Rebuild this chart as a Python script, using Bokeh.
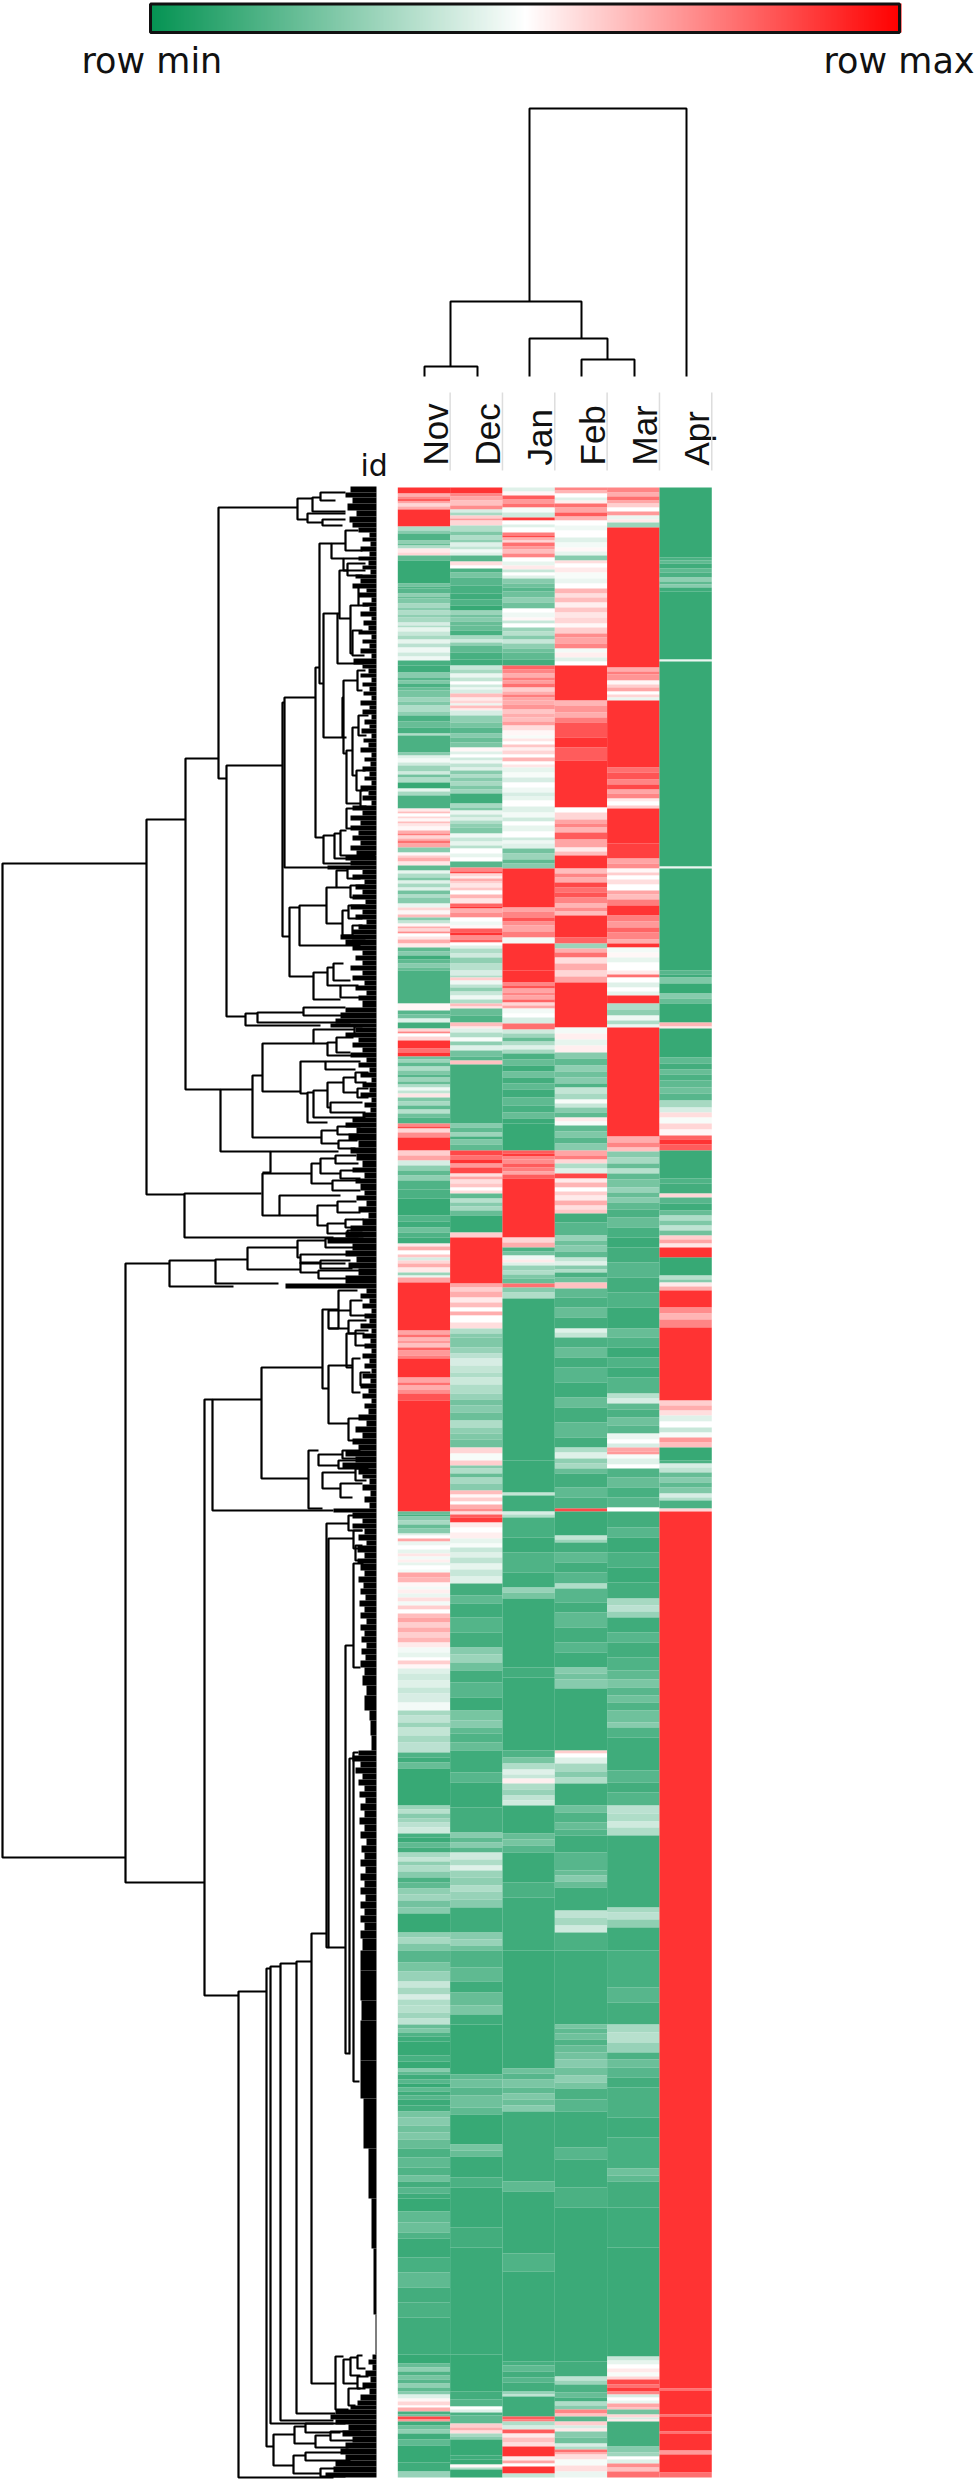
from bokeh.plotting import figure
from bokeh.embed import file_html
from bokeh.resources import INLINE
from bokeh.core.properties import value
import math

MONTHS = ["Nov", "Dec", "Jan", "Feb", "Mar", "Apr"]
ROWS = 1990
# heat bands per month: (last row of the band, row-scaled level 0=min .. 1=max)
NOV = [(6,1),(9,.7),(11,.8),(14,.9),(16,.72),(19,.6),(22,.7),(39,1),(43,.3),(46,.2),(53,.06),(56,.22),(58,.12),(61,.3),(65,.55),(68,.6),(73,.1),(96,0),(99,.15),(101,.06),(106,.08),(109,.22),(111,.12),(116,.18),(120,.28),(123,.2),(127,.3),(130,.22),(135,.28),(138,.4),(140,.3),(144,.44),(148,.36),(152,.28),(156,.44),(160,.33),(165,.46),(169,.38),(173,.46),(178,.04),(185,.02),(190,.2),(193,.08),(196,.18),(200,.05),(203,.12),(210,.16),(214,.25),(218,.18),(224,.3),(228,.22),(234,.05),(240,.12),(246,.04),(248,.3),(265,.05),(268,.2),(271,.42),(275,.47),(278,.38),(284,.25),(287,.38),(290,.15),(295,.3),(301,0),(304,.44),(308,.28),(321,.05),(324,.55),(326,.66),(329,.5),(331,.6),(334,.52),(336,.66),(339,.56),(343,.52),(346,.7),(348,.82),(351,.6),(353,.7),(356,.85),(360,.72),(365,.2),(368,.52),(370,.62),(374,.7),(378,.56),(383,.1),(386,.44),(390,.3),(393,.18),(396,.42),(400,.28),(403,.42),(407,.15),(410,.3),(416,.2),(420,.45),(423,.6),(427,.52),(430,.66),(433,.2),(436,.35),(439,.52),(441,.7),(444,.6),(446,.78),(449,.5),(452,.56),(456,.7),(460,.55),(464,.1),(468,.2),(472,.02),(476,.1),(480,.2),(483,.12),(516,.05),(523,.52),(527,.08),(531,.15),(535,.42),(541,.03),(544,.6),(546,.8),(549,.5),(553,.6),(561,1),(565,.85),(569,1),(572,.15),(575,.25),(579,.1),(583,.3),(587,.18),(590,.08),(594,.25),(597,.12),(600,.3),(603,.46),(606,.35),(610,.56),(614,.18),(618,.28),(622,.1),(626,.32),(630,.14),(636,.06),(639,.8),(641,.95),(645,.6),(650,.78),(663,1),(668,.62),(673,.72),(678,.4),(683,.22),(688,.1),(693,.22),(702,.06),(711,.05),(728,0),(734,.07),(740,.02),(745,.14),(750,.06),(756,.02),(759,.55),(763,.7),(767,.5),(770,.64),(773,.4),(776,.6),(780,.7),(785,.55),(788,.25),(790,.45),(795,.72),(843,1),(847,.72),(850,.85),(853,.68),(856,.75),(860,.65),(863,.88),(868,.75),(871,.82),(890,1),(895,.72),(898,.85),(902,.7),(906,.78),(913,.92),(1024,1),(1027,.12),(1029,.04),(1033,.2),(1037,.28),(1041,.12),(1046,.2),(1048,.42),(1051,.5),(1054,.72),(1058,.45),(1062,.5),(1066,.44),(1069,.56),(1072,.47),(1075,.54),(1078,.44),(1082,.5),(1085,.47),(1090,.72),(1095,.68),(1099,.52),(1102,.47),(1106,.54),(1110,.45),(1114,.58),(1118,.47),(1122,.62),(1126,.5),(1130,.66),(1135,.72),(1140,.62),(1145,.7),(1150,.62),(1155,.68),(1160,.55),(1165,.47),(1170,.44),(1173,.5),(1177,.62),(1181,.52),(1186,.42),(1193,.38),(1200,.42),(1206,.36),(1215,.4),(1223,.47),(1228,.28),(1235,.34),(1240,.25),(1248,.35),(1255,.28),(1265,.33),(1270,.06),(1275,.02),(1281,.12),(1318,0),(1322,.25),(1326,.32),(1331,.2),(1335,.26),(1340,.33),(1346,.38),(1350,.04),(1355,.01),(1360,.1),(1365,.03),(1370,.28),(1374,.35),(1378,.22),(1384,.3),(1390,.2),(1395,.05),(1401,.1),(1407,.22),(1413,.26),(1420,.15),(1426,.2),(1445,0),(1450,.22),(1456,.28),(1463,.18),(1475,.08),(1484,.16),(1494,.24),(1500,.36),(1507,.28),(1512,.4),(1518,.3),(1525,.32),(1531,.26),(1537,.34),(1541,.12),(1545,.18),(1549,.06),(1554,.02),(1568,0),(1574,.04),(1581,0),(1584,.2),(1587,.1),(1592,.02),(1596,.08),(1600,0),(1604,.1),(1608,.02),(1612,.08),(1618,.01),(1624,.03),(1630,.16),(1638,.2),(1645,.14),(1652,.18),(1661,.12),(1670,.05),(1680,.1),(1688,.06),(1694,.14),(1700,.03),(1706,.08),(1711,.02),(1724,0),(1735,.1),(1745,.13),(1751,.06),(1770,.01),(1785,.04),(1800,.1),(1815,.03),(1830,.05),(1867,.02),(1876,0),(1880,.12),(1884,.22),(1888,.06),(1892,.16),(1896,.08),(1900,.22),(1904,.1),(1907,.2),(1911,.42),(1914,.52),(1918,.6),(1920,.5),(1924,.7),(1927,.04),(1929,.15),(1932,.95),(1934,.75),(1938,.02),(1942,.14),(1946,.22),(1952,.02),(1958,.1),(1975,0),(1984,.02),(1990,.24)]
DEC = [(6,1),(9,.8),(13,.72),(18,.65),(22,.78),(25,.4),(28,.28),(31,.62),(33,.75),(38,.6),(44,.3),(48,.18),(52,.3),(55,.22),(59,.42),(62,.35),(65,.47),(68,.42),(74,.08),(78,.58),(81,.5),(85,.05),(90,.16),(98,.08),(106,.04),(112,.02),(118,.06),(123,0),(127,.25),(130,.15),(134,.2),(138,.12),(143,.12),(148,.04),(152,.28),(155,.38),(158,.22),(165,.1),(172,.04),(178,.02),(182,.36),(186,.28),(190,.45),(194,.35),(197,.5),(200,.38),(202,.46),(206,.4),(210,.66),(213,.55),(216,.6),(218,.45),(221,.66),(223,.55),(228,.4),(235,.22),(240,.16),(246,.08),(250,.2),(255,.12),(260,.17),(264,.52),(267,.42),(270,.5),(273,.38),(276,.46),(280,.34),(283,.42),(287,.2),(290,.3),(294,.2),(298,.28),(302,.18),(306,.26),(316,.02),(320,.28),(323,.18),(327,.45),(330,.35),(333,.42),(336,.3),(340,.22),(346,.18),(350,.46),(354,.36),(358,.44),(361,.32),(366,.5),(370,.44),(374,.5),(380,.08),(384,.8),(386,.95),(389,.6),(391,.54),(394,.7),(396,.62),(400,.56),(403,.64),(407,.5),(411,.68),(416,.56),(419,.88),(421,1),(425,.7),(430,.78),(434,.5),(438,.46),(441,.52),(445,.9),(448,1),(452,.78),(455,.88),(458,.5),(461,.42),(466,.3),(470,.38),(476,.22),(483,.32),(488,.4),(490,.3),(493,.62),(497,.46),(500,.34),(504,.22),(508,.36),(512,.46),(516,.3),(519,.66),(521,.56),(528,.12),(535,.06),(539,.66),(541,.55),(545,.42),(550,.3),(554,.48),(558,.22),(563,.42),(569,.15),(573,.08),(577,.65),(636,.03),(640,.2),(645,.1),(649,.25),(652,.04),(657,.18),(663,.1),(668,.95),(672,.85),(676,1),(680,.75),(686,.95),(689,.58),(692,.72),(696,.58),(700,.64),(703,.5),(706,.58),(711,.1),(715,.32),(719,.2),(723,.28),(728,.12),(745,0),(750,.62),(796,1),(800,.72),(804,.62),(810,.7),(815,.55),(820,.66),(824,.5),(828,.7),(835,.5),(841,.58),(846,.3),(850,.2),(860,.18),(866,.24),(871,.33),(878,.4),(885,.35),(890,.3),(897,.37),(906,.3),(912,.24),(918,.15),(925,.2),(933,.13),(940,.3),(946,.22),(952,.18),(960,.14),(966,.6),(973,.48),(978,.62),(981,.2),(986,.3),(990,.12),(996,.28),(1003,.2),(1007,.66),(1010,.52),(1014,.62),(1017,.5),(1021,.7),(1024,.78),(1027,.58),(1030,.9),(1035,.98),(1040,.55),(1045,.5),(1051,.54),(1056,.44),(1060,.48),(1065,.36),(1070,.42),(1076,.34),(1082,.44),(1089,.36),(1096,.42),(1108,.03),(1116,.1),(1130,.02),(1145,.07),(1160,.03),(1167,.2),(1175,.25),(1183,.14),(1195,.03),(1210,.08),(1223,.01),(1233,.16),(1240,.2),(1246,.1),(1255,.06),(1263,.12),(1285,.02),(1295,.08),(1320,.01),(1345,.03),(1350,.2),(1355,.1),(1360,.2),(1365,.08),(1372,.38),(1378,.3),(1383,.42),(1390,.25),(1398,.22),(1404,.3),(1412,.24),(1420,.2),(1445,.02),(1452,.2),(1458,.24),(1463,.14),(1480,.06),(1494,.1),(1505,.02),(1518,.12),(1527,.17),(1537,.02),(1587,0),(1592,.1),(1600,.14),(1608,.08),(1620,.14),(1627,.1),(1657,0),(1663,.16),(1669,.12),(1690,.01),(1700,.05),(1740,.01),(1760,.03),(1867,.01),(1904,0),(1912,.03),(1919,.07),(1922,.5),(1925,.42),(1928,.05),(1936,.1),(1940,.62),(1943,.7),(1946,.58),(1949,.28),(1952,.2),(1968,0),(1972,.02),(1977,0),(1980,.52),(1982,.3),(1990,0)]
JAN = [(4,.42),(8,.52),(12,.9),(16,.75),(20,.85),(25,.48),(30,.38),(33,.98),(37,.5),(40,.42),(45,.5),(48,.82),(50,.95),(53,.7),(55,.6),(59,.85),(62,.75),(66,.66),(70,.8),(74,.5),(78,.44),(82,.55),(85,.36),(88,.5),(91,.42),(96,.2),(100,.14),(104,.08),(110,.14),(115,.22),(121,.14),(125,.5),(130,.46),(133,.52),(136,.36),(140,.5),(144,.25),(148,.32),(152,.2),(156,.36),(161,.22),(165,.14),(172,.1),(178,.03),(182,.88),(186,.8),(190,.7),(193,.82),(196,.74),(200,.85),(204,.62),(207,.7),(210,.82),(213,.72),(217,.7),(222,.76),(226,.64),(230,.7),(234,.66),(238,.74),(243,.58),(248,.52),(251,.48),(254,.56),(257,.5),(260,.64),(263,.54),(267,.6),(270,.5),(274,.68),(277,.5),(280,.56),(285,.44),(290,.48),(295,.4),(300,.5),(305,.46),(309,.4),(313,.44),(319,.5),(325,.42),(330,.47),(334,.38),(338,.5),(344,.44),(350,.5),(353,.38),(356,.46),(361,.42),(366,.15),(372,.25),(376,.1),(381,.2),(420,1),(424,.72),(430,.8),(434,.92),(438,.78),(444,.72),(450,.82),(456,.47),(483,1),(495,1),(498,.8),(501,.92),(505,.72),(508,.8),(512,.72),(515,.88),(518,.6),(521,.72),(526,.47),(530,.5),(536,.4),(542,.85),(546,.38),(550,.26),(554,.12),(558,.3),(562,.42),(566,.28),(572,.05),(578,.12),(584,.02),(590,.14),(596,.03),(602,.1),(610,.02),(618,.1),(625,.04),(631,.12),(636,.01),(663,0),(666,.9),(669,.98),(672,.8),(676,.78),(680,.9),(684,.82),(687,.72),(691,.9),(750,1),(755,.6),(760,.7),(764,.05),(768,.15),(772,.46),(775,.55),(778,.42),(783,.24),(787,.3),(791,.18),(796,.12),(800,.85),(805,.2),(811,.3),(973,.01),(1005,.01),(1008,.35),(1024,.02),(1027,.4),(1030,.3),(1050,.04),(1065,.01),(1085,.06),(1100,.02),(1105,.24),(1111,.16),(1180,.01),(1190,.03),(1263,.01),(1270,.06),(1276,.16),(1282,.3),(1287,.42),(1291,.36),(1296,.54),(1302,.3),(1308,.24),(1313,.34),(1318,.38),(1346,.01),(1352,.12),(1358,.16),(1365,.08),(1395,.01),(1410,.05),(1463,.02),(1581,.01),(1586,.14),(1592,.08),(1600,.17),(1606,.1),(1612,.18),(1618,.13),(1624,.2),(1694,.02),(1704,.1),(1766,.01),(1784,.06),(1874,.01),(1878,.04),(1884,.1),(1890,.03),(1895,.08),(1904,.03),(1907,.24),(1909,.34),(1929,.02),(1932,.9),(1934,.82),(1938,.3),(1942,.4),(1946,.9),(1950,.55),(1955,.65),(1959,.58),(1969,1),(1973,.55),(1976,.72),(1979,.5),(1986,1),(1990,.35)]
FEB = [(3,.8),(6,.68),(10,.5),(13,.42),(16,.54),(20,.85),(25,.72),(29,.9),(33,.68),(38,.5),(43,.46),(50,.5),(55,.42),(60,.47),(64,.52),(68,.44),(73,.2),(76,.58),(80,.5),(85,.55),(91,.48),(96,.45),(101,.5),(106,.68),(110,.58),(115,.66),(120,.54),(125,.64),(130,.56),(136,.6),(140,.52),(146,.62),(150,.78),(156,.72),(161,.8),(165,.47),(170,.54),(174,.42),(178,.5),(213,1),(218,.68),(225,.76),(230,.7),(235,.82),(250,.92),(260,1),(273,.9),(320,1),(325,.5),(332,.6),(336,.72),(340,.8),(345,.68),(352,.9),(360,.72),(364,.55),(368,.66),(381,1),(386,.66),(390,.8),(395,.7),(400,.95),(405,.85),(410,.92),(416,.8),(420,.68),(424,.78),(428,.66),(450,1),(456,.88),(461,.25),(465,.7),(470,.85),(476,.58),(483,.7),(489,.6),(495,.72),(540,1),(546,.47),(552,.54),(558,.44),(565,.54),(571,.2),(578,.1),(584,.22),(590,.14),(596,.2),(600,.06),(606,.35),(612,.28),(616,.48),(620,.36),(625,.2),(630,.1),(634,.55),(638,.48),(644,.1),(650,.18),(656,.08),(663,.2),(668,.72),(672,.82),(676,.6),(681,.3),(686,.42),(691,.95),(695,.55),(700,.68),(704,.5),(708,.62),(713,.55),(718,.7),(722,.58),(726,.64),(735,.03),(748,.08),(753,.24),(758,.14),(764,.2),(770,.1),(774,.35),(778,.42),(782,.2),(785,.3),(790,.05),(795,.14),(801,.65),(810,.1),(820,.05),(830,.12),(841,.03),(845,.42),(850,.35),(860,.05),(870,.12),(880,.03),(895,.08),(910,.02),(920,.12),(935,.03),(950,.1),(960,.03),(965,.3),(971,.42),(976,.22),(981,.28),(986,.12),(1000,.03),(1010,.1),(1021,.05),(1024,.95),(1048,.01),(1052,.35),(1055,.25),(1065,.03),(1075,.1),(1085,.03),(1096,.08),(1101,.3),(1115,.08),(1125,.03),(1140,.1),(1155,.03),(1165,.08),(1180,.02),(1186,.2),(1192,.15),(1201,.2),(1263,.01),(1266,.62),(1270,.5),(1276,.42),(1284,.28),(1290,.2),(1296,.3),(1318,.02),(1325,.14),(1335,.06),(1342,.12),(1348,.07),(1365,.02),(1383,.08),(1388,.12),(1394,.2),(1400,.12),(1423,.02),(1430,.34),(1438,.28),(1445,.38),(1463,.05),(1537,.02),(1541,.16),(1546,.1),(1552,.14),(1558,.06),(1565,.12),(1572,.15),(1580,.2),(1588,.14),(1595,.22),(1601,.16),(1612,.05),(1624,.08),(1660,.02),(1672,.08),(1700,.02),(1720,.05),(1874,.01),(1889,.03),(1893,.34),(1897,.25),(1905,.05),(1910,.12),(1914,.04),(1918,.3),(1922,.2),(1926,.8),(1929,.65),(1934,.08),(1938,.62),(1941,.4),(1944,.55),(1950,.2),(1956,.14),(1959,.4),(1962,.3),(1965,.85),(1967,.7),(1972,.58),(1978,.48),(1984,.58),(1990,.45)]
MAR = [(5,.8),(9,.7),(13,.85),(16,.72),(20,.62),(24,.5),(28,.75),(32,.45),(35,.55),(40,.25),(180,1),(184,.7),(187,.82),(193,.76),(197,.52),(200,.62),(204,.72),(207,.5),(210,.6),(213,.45),(280,1),(285,.85),(292,.92),(297,.8),(302,.95),(306,.72),(311,.8),(314,.55),(318,.5),(321,.62),(356,1),(371,.97),(376,.72),(381,.78),(385,.52),(388,.62),(392,.5),(397,.58),(403,.5),(407,.72),(412,.66),(418,.82),(428,1),(434,.82),(440,.75),(445,.88),(452,.8),(456,.7),(460,1),(465,.47),(470,.52),(475,.44),(483,.5),(487,.55),(490,.85),(495,.5),(500,.42),(504,.5),(508,.44),(516,1),(522,.3),(528,.22),(533,.46),(537,.3),(540,.45),(649,1),(655,.7),(660,.8),(664,.65),(670,.2),(676,.28),(681,.12),(686,.32),(692,.1),(700,.16),(705,.24),(710,.12),(715,.2),(722,.1),(730,.05),(740,.12),(750,.04),(760,.01),(775,.03),(790,.08),(805,.03),(820,.06),(841,.01),(850,.12),(860,.06),(870,.01),(880,.06),(890,.02),(906,.07),(911,.32),(916,.4),(922,.1),(930,.05),(938,.14),(946,.08),(952,.45),(956,.5),(960,.4),(964,.72),(967,.75),(971,.48),(977,.42),(981,.5),(990,.06),(1000,.12),(1010,.04),(1020,.08),(1024,.5),(1040,.03),(1050,.08),(1065,.01),(1080,.05),(1095,.01),(1111,.03),(1118,.28),(1124,.33),(1130,.24),(1145,.02),(1155,.08),(1170,.03),(1183,.06),(1192,.1),(1200,.17),(1208,.08),(1215,.14),(1223,.06),(1235,.14),(1240,.2),(1250,.06),(1283,.02),(1295,.08),(1305,.03),(1318,.07),(1326,.33),(1334,.3),(1340,.38),(1348,.3),(1420,.02),(1425,.28),(1432,.33),(1440,.22),(1463,.02),(1500,.04),(1515,.08),(1537,.03),(1545,.28),(1555,.32),(1565,.24),(1572,.05),(1580,.13),(1590,.08),(1600,.03),(1630,.05),(1650,.02),(1681,.04),(1688,.14),(1694,.1),(1720,.03),(1760,.02),(1869,.01),(1873,.36),(1877,.44),(1881,.5),(1885,.55),(1889,.48),(1892,.6),(1897,.95),(1900,.85),(1904,.98),(1907,.8),(1910,.4),(1913,.5),(1916,.45),(1920,.72),(1922,.65),(1927,.15),(1930,.6),(1932,.4),(1934,.55),(1959,.03),(1965,.2),(1969,.26),(1972,.5),(1976,.42),(1980,.78),(1984,.65),(1990,.85)]
APR = [(70,0),(73,.05),(76,.1),(81,.02),(85,.1),(90,.05),(94,.22),(97,.1),(100,.2),(104,.02),(172,0),(174,.45),(379,0),(381,.45),(483,0),(487,.08),(490,.02),(496,.18),(506,0),(511,.2),(516,.12),(535,0),(539,.68),(541,.55),(570,0),(576,.1),(582,.03),(587,.12),(593,.05),(600,.1),(606,.14),(613,.08),(620,.28),(625,.4),(630,.58),(636,.48),(642,.6),(648,.52),(652,.88),(657,1),(663,.9),(691,.01),(696,.06),(706,.03),(710,.6),(716,.08),(723,.02),(728,.12),(733,.3),(738,.18),(743,.34),(748,.14),(752,.62),(756,.72),(760,.56),(770,1),(788,0),(792,.32),(795,.2),(799,.55),(803,.7),(820,1),(826,.78),(832,.68),(840,.8),(913,1),(918,.62),(923,.7),(928,.58),(934,.42),(940,.5),(945,.36),(950,.48),(955,.75),(960,.66),(973,0),(976,.05),(980,.4),(985,.34),(990,.12),(995,.2),(1000,.1),(1006,.18),(1010,.4),(1013,.3),(1021,.05),(1024,.6),(1901,1),(1903,.85),(1927,1),(1929,.85),(1944,1),(1946,.85),(1963,1),(1967,.75),(1985,1),(1990,.85)]
COLUMNS = [NOV, DEC, JAN, FEB, MAR, APR]

# column dendrogram: (stem, level, left foot, right foot, left end, right end) in drawing units
COL_TREE = [(424,366,376,477,376),(529,338,376,607,359),(581,359,376,634,376),(450,301,366,581,338),(529,108,301,686,376)]

# row dendrogram merges: (height, first child row, second child row, first child height, second child height)
ROW_TREE = [
(2,863,1857,146,125),(146,819,1194,185,184),(185,758,1089,218,220),(218,507,778,297,226),
(297,498,519,312,307),(312,497,511,320,345),(320,492,500,345,335),(307,513,522,345,322),(322,519,525,345,342),
(226,765,1016,282,245),(282,702,936,284,289),(284,697,867,315,360),(315,667,837,319,323),
(319,543,683,331,323),(323,613,737,337,342),(331,543,558,345,343),(345,530,550,358,362),(343,558,570,360,365),
(337,613,663,339,363),(339,570,618,347,350),(347,563,575,365,362),(350,605,653,358,352),(358,585,605,366,368),(352,630,655,362,364),
(342,697,737,343,346),(343,680,753,357,346),(357,670,690,365,362),(346,750,803,352,360),(352,727,775,358,356),(358,715,735,368,366),(356,770,790,365,362),(360,790,806,368,366),
(323,835,863,334,375),(334,833,858,340,375),(340,830,855,346,375),(346,808,828,356,362),
(289,907,976,299,313),(299,905,945,326,360),(326,887,923,336,342),(336,870,887,347,350),(342,910,935,348,352),(347,868,878,362,360),(350,885,897,365,362),(348,905,918,365,362),(352,925,938,362,365),
(313,972,999,327,340),(327,967,985,333,340),(333,963,980,343,350),(340,985,997,358,360),
(245,1013,1025,257,320),(257,1012,1022,303,350),(303,1007,1015,345,346),
(220,1089,1151,252,270),(252,1075,1137,262,321),(262,1043,1091,313,300),(313,1029,1043,354,327),(327,1042,1055,336,353),(336,1037,1052,353,350),(354,1026,1034,362,365),
(300,1061,1093,325,307),(325,1061,1069,360,355),(307,1092,1122,313,327),(313,1090,1117,327,365),(327,1082,1107,343,330),(343,1077,1092,355,357),(330,1102,1112,362,365),(355,1072,1082,368,366),(357,1088,1097,368,368),
(321,1130,1143,337,338),(337,1126,1134,360,358),(338,1140,1148,357,355),
(270,1151,1172,338,262),(262,1173,1215,311,279),(311,1163,1183,320,332),(320,1158,1173,335,340),(335,1155,1163,356,358),(340,1170,1178,358,360),(332,1180,1190,358,360),
(279,1195,1215,340,317),(317,1205,1225,337,327),(337,1201,1212,356,360),(327,1223,1233,345,347),(345,1219,1227,363,365),(347,1230,1236,362,363),
(184,1193,1237,261,333),(125,1263,1882,169,204),(169,1260,1286,215,233),(215,1259,1283,247,278),(247,1247,1269,297,300),
(297,1240,1257,325,300),(325,1238,1247,358,355),(300,1254,1263,350,345),(300,1262,1272,320,318),(320,1260,1268,350,352),(318,1270,1278,360,358),
(204,1399,1995,212,238),(212,1399,1510,261,333),(261,1367,1478,322,308),
(322,1309,1388,338,328),(328,1365,1423,352,348),(338,1290,1328,357,328),(328,1310,1328,350,348),(346,1333,1367,355,352),(352,1358,1392,360,360),(348,1418,1440,365,365),(350,1300,1315,362,365),(355,1330,1345,368,366),(348,1320,1333,366,364),(360,1372,1385,370,368),
(308,1450,1508,318,322),(318,1454,1465,342,338),(322,1472,1488,355,340),(340,1483,1497,362,352),(342,1450,1458,360,360),(338,1460,1468,358,360),(355,1468,1480,368,366),
(238,1991,2477,266,333),(266,1968,2446,270,273),(270,1966,2423,280,333),(280,1963,2420,296,333),(296,1961,2413,311,335),
(311,1933,2383,326,335),(326,1523,1947,348,328),(328,1538,1947,353,345),(345,1645,2053,353,349),(353,1563,1667,363,360),(349,1758,2053,353,350),(353,1752,2081,358,359),
(348,1515,1530,358,362),(353,1530,1548,362,358),(355,1545,1560,362,365),
(335,2356,2409,343,348),(343,2359,2383,350,357),(350,2357,2375,357,360),(357,2355,2368,362,365),(348,2388,2405,360,355),(357,2376,2388,368,365),
(273,2434,2465,294,293),(294,2426,2443,305,315),(305,2423,2432,345,340),(315,2435,2447,330,348),(330,2431,2440,360,358),(293,2455,2473,305,320),(305,2452,2460,345,350),(320,2468,2476,350,345)]
# left edge of the solid leaf block: (last row in page units, left edge); the tooth widths follow the picture
LEAF_EDGE = [(492,350),(497,345),(503,352),(510,347),(516,356),(522,349),(527,352),(532,358),(537,369),(541,362),(546,370),(551,360),(556,369),(560,358),(565,368),(569,362),(574,370),(578,355),(583,360),(588,352),(592,366),(597,358),(602,371),(606,362),(611,369),(616,360),(620,371),(625,363),(630,368),(634,358),(639,371),(643,362),(648,369),(653,360),(658,371),(664,353),(668,362),(673,368),(677,360),(682,371),(686,362),(691,369),(695,363),(700,371),(705,360),(709,369),(714,362),(719,371),(724,364),(728,369),(733,361),(738,371),(742,363),(747,368),(752,360),(757,371),(761,364),(766,370),(771,362),(776,369),(780,364),(785,371),(790,360),(795,368),(800,362),(805,371),(810,352),(815,362),(820,350),(825,360),(830,350),(835,358),(840,352),(845,360),(850,350),(855,356),(860,345),(865,350),(869,327),(874,362),(879,352),(884,364),(889,355),(894,362),(899,352),(904,365),(909,350),(914,362),(919,355),(924,366),(929,358),(934,352),(939,340),(945,345),(950,352),(955,362),(960,355),(965,362),(970,350),(975,362),(980,352),(985,364),(990,355),(995,366),(1000,358),(1007,362),(1012,345),(1018,340),(1023,335),(1027,330),(1032,355),(1037,345),(1042,358),(1047,352),(1052,362),(1057,350),(1062,366),(1067,358),(1072,369),(1077,360),(1082,371),(1087,362),(1092,369),(1097,360),(1102,371),(1107,364),(1112,370),(1117,362),(1122,352),(1127,345),(1133,356),(1140,348),(1147,358),(1153,350),(1160,356),(1167,362),(1172,352),(1178,364),(1183,355),(1190,360),(1195,364),(1200,356),(1206,366),(1212,358),(1218,368),(1225,362),(1231,350),(1237,345),(1243,327),(1250,352),(1256,345),(1262,356),(1268,348),(1275,358),(1283,345),(1288,285),(1293,366),(1298,360),(1303,369),(1308,362),(1313,371),(1318,364),(1323,369),(1328,360),(1333,371),(1338,362),(1343,370),(1348,364),(1353,371),(1358,362),(1363,369),(1368,364),(1373,371),(1378,362),(1383,370),(1388,360),(1393,368),(1398,362),(1403,371),(1408,364),(1414,368),(1420,358),(1426,366),(1432,355),(1438,362),(1444,352),(1450,358),(1456,345),(1462,355),(1468,342),(1474,358),(1478,362),(1484,369),(1490,362),(1496,370),(1502,364),(1508,369),(1512,333),(1518,352),(1523,362),(1528,352),(1534,364),(1540,358),(1545,366),(1552,357),(1558,364),(1563,357),(1570,360),(1576,364),(1582,358),(1588,363),(1594,360),(1600,365),(1606,359),(1612,364),(1618,360),(1624,366),(1630,360),(1636,364),(1642,361),(1648,366),(1654,361),(1660,365),(1667,360),(1675,364),(1685,362),(1695,366),(1710,364),(1720,369),(1735,370),(1750,371),(1755,358),(1761,352),(1767,360),(1773,355),(1779,362),(1785,358),(1791,364),(1797,359),(1803,365),(1810,360),(1817,364),(1824,359),(1831,364),(1838,360),(1845,366),(1852,361),(1859,364),(1866,360),(1873,365),(1880,360),(1887,364),(1894,360),(1901,365),(1908,360),(1915,364),(1922,360),(1930,364),(1938,360),(1950,362),(1970,360),(2000,360),(2020,361),(2060,360),(2098,360),(2148,363),(2198,368),(2248,371),(2314,373),(2354,375),(2359,372),(2364,368),(2370,372),(2376,365),(2382,370),(2388,362),(2394,369),(2400,360),(2405,357),(2409,350),(2414,335),(2419,330),(2424,335),(2430,348),(2436,342),(2442,352),(2448,345),(2454,340),(2460,345),(2466,335),(2472,333),(2477,325)]

LEGEND_MIN, LEGEND_MID, LEGEND_MAX = (5,147,83), (255,255,255), (255,0,0)

def ramp(v):
    a, b, t = (LEGEND_MIN, LEGEND_MID, v*2) if v < .5 else (LEGEND_MID, LEGEND_MAX, v*2-1)
    return "#%02x%02x%02x" % tuple(round(a[i]+(b[i]-a[i])*t) for i in range(3))

p = figure(width=979, height=2481, x_range=(0,979), y_range=(2481,0), toolbar_location=None,
           output_backend="svg", min_border=0, outline_line_color=None)
p.axis.visible = False
p.grid.visible = False
p.background_fill_color = "#ffffff"

HEAT_LEFT, HEAT_TOP, CELL = 397.3, 487.0, 52.33
l, r, t, b, c = [], [], [], [], []
for i, col in enumerate(COLUMNS):
    start = 0
    for end, v in col:
        if end <= start: continue
        l.append(HEAT_LEFT+i*CELL); r.append(HEAT_LEFT+(i+1)*CELL)
        t.append(HEAT_TOP+start); b.append(HEAT_TOP+end); c.append(ramp(v)); start = end
p.quad(left=l, right=r, top=t, bottom=b, fill_color=c, fill_alpha=.8, line_color=None)

# leaf block
start = 486; lt, lb, ll = [], [], []
for end, edge in LEAF_EDGE:
    lt.append(start); lb.append(end); ll.append(edge); start = end
p.quad(left=ll, right=[376]*len(ll), top=lt, bottom=lb, fill_color="black", line_color=None)

xs, ys = [], []
for h, y1, y2, x1, x2 in ROW_TREE:
    xs.append([x1, h, h, x2]); ys.append([y1, y1, y2, y2])
p.multi_line(xs, ys, line_color="black", line_width=2.2)
xs, ys = [], []
for h, lvl, lfoot, rh, rfoot in COL_TREE:
    xs.append([h, h, rh, rh]); ys.append([lfoot, lvl, lvl, rfoot])
p.multi_line(xs, ys, line_color="black", line_width=2)

# legend
N = 375
edges = [150+2*i for i in range(N+1)]
p.quad(left=edges[:-1], right=[e+1 for e in edges[1:]], top=[3]*N, bottom=[32]*N,
       fill_color=[ramp(i/(N-1)) for i in range(N)], line_color=None)
p.quad(left=[150], right=[899], top=[3.5], bottom=[32], fill_color=None, line_color="#111111", line_width=3)
p.text(x=[81, 823], y=[60, 60], text=["row min", "row max"], text_font=value("DejaVu Sans"),
       text_font_size="35px", text_baseline="alphabetic", text_color="#111111")
p.text(x=[360], y=[465], text=["id"], text_font=value("DejaVu Sans"), text_font_size="30px",
       text_baseline="alphabetic", text_color="#111111")
p.text(x=[HEAT_LEFT+37.5+i*CELL for i in range(6)], y=[465]*6, text=MONTHS, angle=math.pi/2,
       text_font=value("Liberation Sans"), text_font_size="35px", text_baseline="alphabetic", text_color="#111111")
p.segment(x0=[HEAT_LEFT+(i+1)*CELL for i in range(6)], x1=[HEAT_LEFT+(i+1)*CELL for i in range(6)],
          y0=[392]*6, y1=[470]*6, line_color="#dddddd", line_width=1.5)

open("out.html", "w").write(file_html(p, INLINE))
